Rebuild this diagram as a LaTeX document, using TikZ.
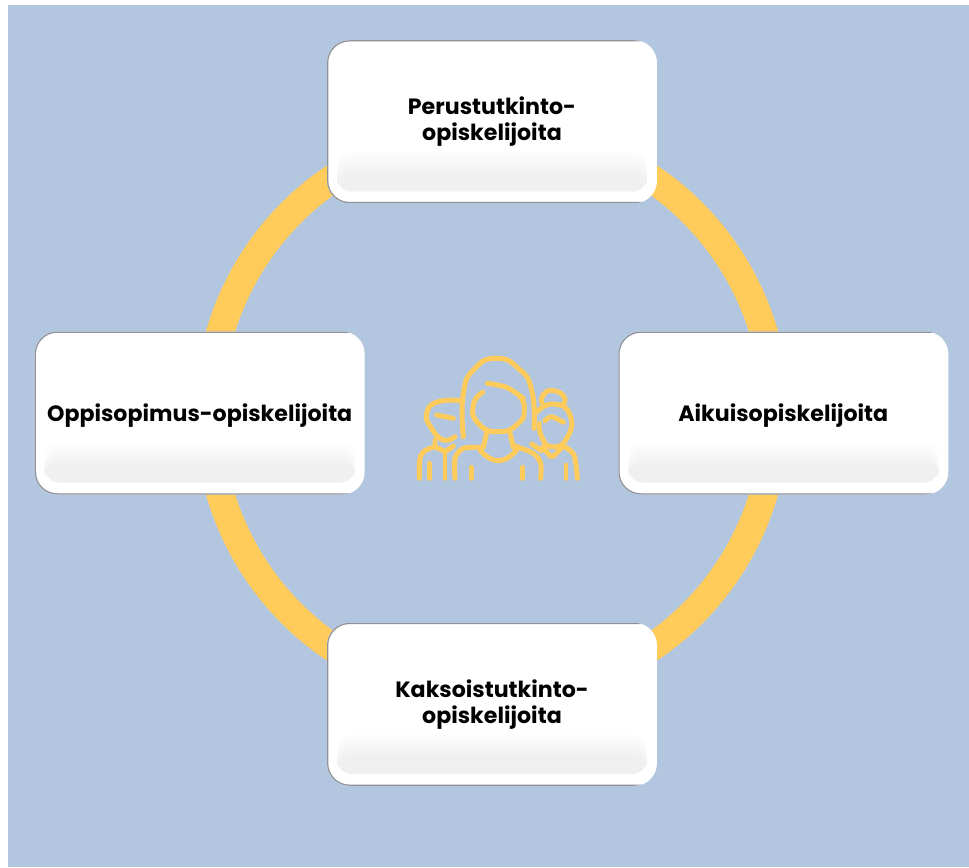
\documentclass[tikz,border=0pt]{standalone}
\usepackage{xcolor}
\usepackage{fontspec}
\newfontfamily\boxfont{Poppins}
\definecolor{pageBlue}{HTML}{B3C6DF}
\definecolor{ringYellow}{HTML}{FFCC5C}
\definecolor{edgeGray}{HTML}{8F9298}
\usetikzlibrary{positioning,backgrounds}
\tikzset{
    stubox/.style={
        fill=white,
        rectangle,
        rounded corners=4.5mm,
        align=center,
        minimum height=3.26cm,
        minimum width=6.6cm,
        inner sep=0pt,
        font=\boxfont\bfseries\fontsize{12.6}{14.7}\selectfont,
        execute at begin node={\rule{0pt}{13pt}},
        path picture={
            \foreach \k in {1,...,6}
                \fill[black!\k, rounded corners=3mm]
                    ([xshift=2mm,yshift=2.4mm]path picture bounding box.south west) rectangle
                    ([xshift=-2mm,yshift=1.1cm-\k*0.08cm]path picture bounding box.south east);
            \draw[edgeGray, line width=.5mm, rounded corners=4.5mm]
                (path picture bounding box.south west) rectangle
                ([xshift=2mm]path picture bounding box.north east);
        }
    },
    ringline/.style={
        color=ringYellow,
        line width=5.6mm
    },
    iconline/.style={
        color=ringYellow,
        line width=2.8pt,
        line cap=round,
        line join=round
    }
}
\begin{document}
\begin{tikzpicture}[x=0.02cm, y=-0.02cm]
    \useasboundingbox (0,0) rectangle (969,867);

    % Hub of the ring
    \coordinate (hub) at (492,413);

    % Student groups
    \node[stubox, above=4.19cm of hub] (perus) {Perustutkinto-\\opiskelijoita};
    \node[stubox, right=2.52cm of hub] (aikuis) {Aikuisopiskelijoita};
    \node[stubox, below=4.19cm of hub] (kaksois) {Kaksoistutkinto-\\opiskelijoita};
    \node[stubox, left=2.54cm of hub] (oppi) {Oppisopimus-opiskelijoita};

    % Background and ring
    \begin{scope}[on background layer]
        \fill[pageBlue] (8,5) rectangle (969,867);
        \draw[ringline] ([yshift=-1.6mm]perus.center) to[out=0, in=90] ([xshift=-1.6mm]aikuis.center);
        \draw[ringline] ([xshift=-1.6mm]aikuis.center) to[out=-90, in=0] ([yshift=1.6mm]kaksois.center);
        \draw[ringline] ([yshift=1.6mm]kaksois.center) to[out=180, in=-90] ([xshift=1.8mm]oppi.center);
        \draw[ringline] ([xshift=1.8mm]oppi.center) to[out=90, in=180] ([yshift=-1.6mm]perus.center);
    \end{scope}

    % People icon
    \begin{scope}[shift={(400,340)}, x=0.02cm/3, y=-0.02cm/3]
        % Woman in the middle
        \draw[iconline] plot[smooth, tension=0.9] coordinates {(190,290) (190,160) (225,85) (290,55) (355,85) (395,150) (402,265)};
        \draw[iconline] plot[smooth, tension=1] coordinates {(248,157) (220,195) (235,250) (295,275) (355,250) (373,205) (360,170)};
        \draw[iconline] plot[smooth] coordinates {(262,130) (320,142) (370,175)};
        \draw[iconline] (262,270) -- (250,322);
        \draw[iconline] (328,270) -- (340,322);
        \draw[iconline] plot[smooth, tension=1] coordinates {(240,330) (295,362) (350,330)};
        \draw[iconline] plot[smooth] coordinates {(422,415) (422,370) (400,340) (345,318)};
        \draw[iconline] (215,382) -- (215,415);
        \draw[iconline] (368,382) -- (368,415);
        \draw[iconline] plot[smooth] coordinates {(165,415) (165,355) (190,325) (245,322)};
        % Man on the left
        \draw[iconline] plot[smooth, tension=0.9] coordinates {(188,183) (115,185) (80,220) (95,265) (130,300) (165,290)};
        \draw[iconline] (110,225) -- (160,235);
        \draw[iconline] plot[smooth] coordinates {(58,415) (60,355) (75,332) (105,320)};
        \draw[iconline] (105,300) -- (105,320) -- (135,335) -- (160,318);
        \draw[iconline] (135,335) -- (135,415);
        \draw[iconline] (88,370) -- (88,415);
        % Woman on the right
        \draw[iconline] plot[smooth, tension=1] coordinates {(425,187) (432,162) (460,152) (492,170) (490,192)};
        \draw[iconline] plot[smooth, tension=1] coordinates {(412,215) (460,192) (510,225) (500,295) (455,320) (425,290) (418,250)};
        \draw[iconline] plot[smooth] coordinates {(435,242) (455,230) (490,247)};
        \draw[iconline] plot[smooth] coordinates {(430,320) (455,350) (485,322)};
        \draw[iconline] plot[smooth] coordinates {(490,318) (522,345) (532,415)};
        \draw[iconline] (498,375) -- (498,415);
        \draw[iconline] (425,332) -- (395,312);
    \end{scope}
\end{tikzpicture}
\end{document}
